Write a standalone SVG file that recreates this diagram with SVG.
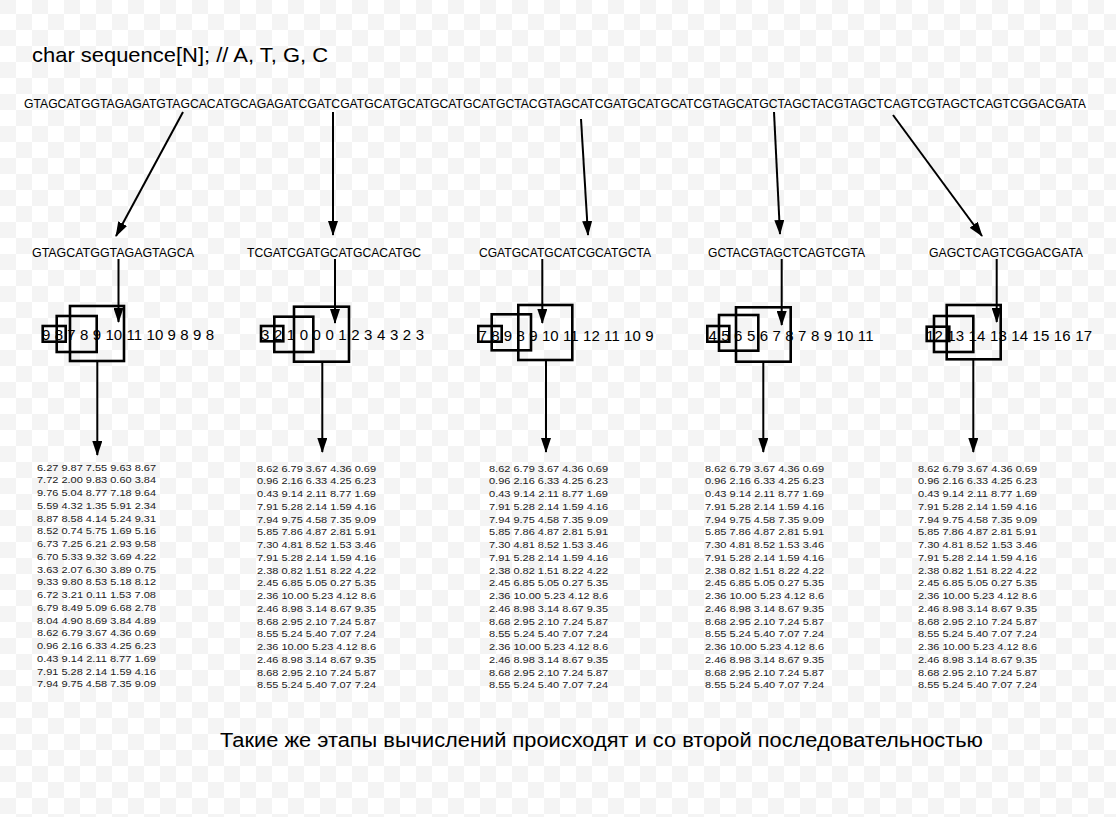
<svg xmlns="http://www.w3.org/2000/svg" width="1116" height="817" viewBox="0 0 1116 817">
<defs>
<pattern id="chk" x="0" y="-2" width="32" height="32" patternUnits="userSpaceOnUse">
<rect width="32" height="32" fill="#ffffff"/>
<rect x="0" y="0" width="16" height="16" fill="#f4f4f4"/>
<rect x="16" y="16" width="16" height="16" fill="#f4f4f4"/>
</pattern>
<marker id="ah" viewBox="0 0 15 10" refX="14" refY="5" markerWidth="15" markerHeight="10" markerUnits="userSpaceOnUse" orient="auto">
<path d="M0,0 L15,5 L0,10 z" fill="#000"/>
</marker>
<style>
text{font-family:"Liberation Sans",Arial,sans-serif;fill:#000}
.seq{font-size:12px}
.lbl{font-size:13px}
.num{font-size:15px}
.tbl{font-size:9.3px;fill:#222}
.box{fill:none;stroke:#000;stroke-width:2.6}
.con{fill:none;stroke:#000;stroke-width:2;marker-end:url(#ah)}
</style>
</defs>
<rect width="1116" height="817" fill="url(#chk)"/>

<g id="title"><text x="32" y="62" font-size="21" textLength="296" lengthAdjust="spacingAndGlyphs">char sequence[N]; // A, T, G, C</text></g>

<g id="sequence"><text class="seq" x="24" y="108" textLength="1062" lengthAdjust="spacingAndGlyphs">GTAGCATGGTAGAGATGTAGCACATGCAGAGATCGATCGATGCATGCATGCATGCATGCTACGTAGCATCGATGCATGCATCGTAGCATGCTAGCTACGTAGCTCAGTCGTAGCTCAGTCGGACGATA</text></g>

<g id="sub1"><text class="lbl" x="32" y="257" textLength="162" lengthAdjust="spacingAndGlyphs">GTAGCATGGTAGAGTAGCA</text></g>
<g id="sub2"><text class="lbl" x="247" y="257" textLength="174" lengthAdjust="spacingAndGlyphs">TCGATCGATGCATGCACATGC</text></g>
<g id="sub3"><text class="lbl" x="479" y="257" textLength="172" lengthAdjust="spacingAndGlyphs">CGATGCATGCATCGCATGCTA</text></g>
<g id="sub4"><text class="lbl" x="708" y="257" textLength="157" lengthAdjust="spacingAndGlyphs">GCTACGTAGCTCAGTCGTA</text></g>
<g id="sub5"><text class="lbl" x="929" y="257" textLength="154" lengthAdjust="spacingAndGlyphs">GAGCTCAGTCGGACGATA</text></g>

<g id="row1">
<text class="num" x="42" y="340" textLength="172" lengthAdjust="spacing">9 8 7 8 9 10 11 10 9 8 9 8</text>
<rect class="box" x="42.7" y="326" width="23" height="15.7"/>
<rect class="box" x="56.7" y="316" width="40" height="36"/>
<rect class="box" x="70" y="306" width="54" height="55"/>
</g>
<g id="row2">
<text class="num" x="261" y="340" textLength="163" lengthAdjust="spacing">3 2 1 0 0 0 1 2 3 4 3 2 3</text>
<rect class="box" x="261" y="326" width="22.3" height="15.3"/>
<rect class="box" x="274.3" y="316.7" width="39" height="35.3"/>
<rect class="box" x="294" y="306.7" width="55" height="55"/>
</g>
<g id="row3">
<text class="num" x="478.5" y="340.5" textLength="175" lengthAdjust="spacing">7 8 9 8 9 10 11 12 11 10 9</text>
<rect class="box" x="478.3" y="326" width="23.4" height="15.7"/>
<rect class="box" x="491.7" y="314.3" width="39.3" height="36"/>
<rect class="box" x="518.3" y="305" width="54" height="55"/>
</g>
<g id="row4">
<text class="num" x="708.5" y="340.5" textLength="165" lengthAdjust="spacing">4 5 6 5 6 7 8 7 8 9 10 11</text>
<rect class="box" x="707.3" y="326" width="22" height="15.7"/>
<rect class="box" x="719" y="315" width="39.3" height="35.7"/>
<rect class="box" x="736" y="307.3" width="54.7" height="54.4"/>
</g>
<g id="row5">
<text class="num" x="926" y="340.5" textLength="166" lengthAdjust="spacing">12 13 14 13 14 15 16 17</text>
<rect class="box" x="926.7" y="326.7" width="22.6" height="14.3"/>
<rect class="box" x="934" y="316" width="39.3" height="36"/>
<rect class="box" x="946.7" y="305" width="54" height="54.3"/>
</g>

<g id="table1" class="tbl">
<text class="tbl" x="37" y="470.5" textLength="119" lengthAdjust="spacingAndGlyphs">6.27 9.87 7.55 9.63 8.67</text>
<text class="tbl" x="37" y="483.25" textLength="119" lengthAdjust="spacingAndGlyphs">7.72 2.00 9.83 0.60 3.84</text>
<text class="tbl" x="37" y="496" textLength="119" lengthAdjust="spacingAndGlyphs">9.76 5.04 8.77 7.18 9.64</text>
<text class="tbl" x="37" y="508.75" textLength="119" lengthAdjust="spacingAndGlyphs">5.59 4.32 1.35 5.91 2.34</text>
<text class="tbl" x="37" y="521.5" textLength="119" lengthAdjust="spacingAndGlyphs">8.87 8.58 4.14 5.24 9.31</text>
<text class="tbl" x="37" y="534.25" textLength="119" lengthAdjust="spacingAndGlyphs">8.52 0.74 5.75 1.69 5.16</text>
<text class="tbl" x="37" y="547" textLength="119" lengthAdjust="spacingAndGlyphs">6.73 7.25 6.21 2.93 9.58</text>
<text class="tbl" x="37" y="559.75" textLength="119" lengthAdjust="spacingAndGlyphs">6.70 5.33 9.32 3.69 4.22</text>
<text class="tbl" x="37" y="572.5" textLength="119" lengthAdjust="spacingAndGlyphs">3.63 2.07 6.30 3.89 0.75</text>
<text class="tbl" x="37" y="585.25" textLength="119" lengthAdjust="spacingAndGlyphs">9.33 9.80 8.53 5.18 8.12</text>
<text class="tbl" x="37" y="598" textLength="119" lengthAdjust="spacingAndGlyphs">6.72 3.21 0.11 1.53 7.08</text>
<text class="tbl" x="37" y="610.75" textLength="119" lengthAdjust="spacingAndGlyphs">6.79 8.49 5.09 6.68 2.78</text>
<text class="tbl" x="37" y="623.5" textLength="119" lengthAdjust="spacingAndGlyphs">8.04 4.90 8.69 3.84 4.89</text>
<text class="tbl" x="37" y="636.25" textLength="119" lengthAdjust="spacingAndGlyphs">8.62 6.79 3.67 4.36 0.69</text>
<text class="tbl" x="37" y="649" textLength="119" lengthAdjust="spacingAndGlyphs">0.96 2.16 6.33 4.25 6.23</text>
<text class="tbl" x="37" y="661.75" textLength="119" lengthAdjust="spacingAndGlyphs">0.43 9.14 2.11 8.77 1.69</text>
<text class="tbl" x="37" y="674.5" textLength="119" lengthAdjust="spacingAndGlyphs">7.91 5.28 2.14 1.59 4.16</text>
<text class="tbl" x="37" y="687.25" textLength="119" lengthAdjust="spacingAndGlyphs">7.94 9.75 4.58 7.35 9.09</text>
</g>

<g id="table2">
<text class="tbl" x="257" y="471.5" textLength="119" lengthAdjust="spacingAndGlyphs">8.62 6.79 3.67 4.36 0.69</text>
<text class="tbl" x="257" y="484.25" textLength="119" lengthAdjust="spacingAndGlyphs">0.96 2.16 6.33 4.25 6.23</text>
<text class="tbl" x="257" y="497" textLength="119" lengthAdjust="spacingAndGlyphs">0.43 9.14 2.11 8.77 1.69</text>
<text class="tbl" x="257" y="509.75" textLength="119" lengthAdjust="spacingAndGlyphs">7.91 5.28 2.14 1.59 4.16</text>
<text class="tbl" x="257" y="522.5" textLength="119" lengthAdjust="spacingAndGlyphs">7.94 9.75 4.58 7.35 9.09</text>
<text class="tbl" x="257" y="535.25" textLength="119" lengthAdjust="spacingAndGlyphs">5.85 7.86 4.87 2.81 5.91</text>
<text class="tbl" x="257" y="548" textLength="119" lengthAdjust="spacingAndGlyphs">7.30 4.81 8.52 1.53 3.46</text>
<text class="tbl" x="257" y="560.75" textLength="119" lengthAdjust="spacingAndGlyphs">7.91 5.28 2.14 1.59 4.16</text>
<text class="tbl" x="257" y="573.5" textLength="119" lengthAdjust="spacingAndGlyphs">2.38 0.82 1.51 8.22 4.22</text>
<text class="tbl" x="257" y="586.25" textLength="119" lengthAdjust="spacingAndGlyphs">2.45 6.85 5.05 0.27 5.35</text>
<text class="tbl" x="257" y="599" textLength="119" lengthAdjust="spacingAndGlyphs">2.36 10.00 5.23 4.12 8.6</text>
<text class="tbl" x="257" y="611.75" textLength="119" lengthAdjust="spacingAndGlyphs">2.46 8.98 3.14 8.67 9.35</text>
<text class="tbl" x="257" y="624.5" textLength="119" lengthAdjust="spacingAndGlyphs">8.68 2.95 2.10 7.24 5.87</text>
<text class="tbl" x="257" y="637.25" textLength="119" lengthAdjust="spacingAndGlyphs">8.55 5.24 5.40 7.07 7.24</text>
<text class="tbl" x="257" y="650" textLength="119" lengthAdjust="spacingAndGlyphs">2.36 10.00 5.23 4.12 8.6</text>
<text class="tbl" x="257" y="662.75" textLength="119" lengthAdjust="spacingAndGlyphs">2.46 8.98 3.14 8.67 9.35</text>
<text class="tbl" x="257" y="675.5" textLength="119" lengthAdjust="spacingAndGlyphs">8.68 2.95 2.10 7.24 5.87</text>
<text class="tbl" x="257" y="688.25" textLength="119" lengthAdjust="spacingAndGlyphs">8.55 5.24 5.40 7.07 7.24</text>
</g>

<g id="table3">
<text class="tbl" x="489" y="471.5" textLength="119" lengthAdjust="spacingAndGlyphs">8.62 6.79 3.67 4.36 0.69</text>
<text class="tbl" x="489" y="484.25" textLength="119" lengthAdjust="spacingAndGlyphs">0.96 2.16 6.33 4.25 6.23</text>
<text class="tbl" x="489" y="497" textLength="119" lengthAdjust="spacingAndGlyphs">0.43 9.14 2.11 8.77 1.69</text>
<text class="tbl" x="489" y="509.75" textLength="119" lengthAdjust="spacingAndGlyphs">7.91 5.28 2.14 1.59 4.16</text>
<text class="tbl" x="489" y="522.5" textLength="119" lengthAdjust="spacingAndGlyphs">7.94 9.75 4.58 7.35 9.09</text>
<text class="tbl" x="489" y="535.25" textLength="119" lengthAdjust="spacingAndGlyphs">5.85 7.86 4.87 2.81 5.91</text>
<text class="tbl" x="489" y="548" textLength="119" lengthAdjust="spacingAndGlyphs">7.30 4.81 8.52 1.53 3.46</text>
<text class="tbl" x="489" y="560.75" textLength="119" lengthAdjust="spacingAndGlyphs">7.91 5.28 2.14 1.59 4.16</text>
<text class="tbl" x="489" y="573.5" textLength="119" lengthAdjust="spacingAndGlyphs">2.38 0.82 1.51 8.22 4.22</text>
<text class="tbl" x="489" y="586.25" textLength="119" lengthAdjust="spacingAndGlyphs">2.45 6.85 5.05 0.27 5.35</text>
<text class="tbl" x="489" y="599" textLength="119" lengthAdjust="spacingAndGlyphs">2.36 10.00 5.23 4.12 8.6</text>
<text class="tbl" x="489" y="611.75" textLength="119" lengthAdjust="spacingAndGlyphs">2.46 8.98 3.14 8.67 9.35</text>
<text class="tbl" x="489" y="624.5" textLength="119" lengthAdjust="spacingAndGlyphs">8.68 2.95 2.10 7.24 5.87</text>
<text class="tbl" x="489" y="637.25" textLength="119" lengthAdjust="spacingAndGlyphs">8.55 5.24 5.40 7.07 7.24</text>
<text class="tbl" x="489" y="650" textLength="119" lengthAdjust="spacingAndGlyphs">2.36 10.00 5.23 4.12 8.6</text>
<text class="tbl" x="489" y="662.75" textLength="119" lengthAdjust="spacingAndGlyphs">2.46 8.98 3.14 8.67 9.35</text>
<text class="tbl" x="489" y="675.5" textLength="119" lengthAdjust="spacingAndGlyphs">8.68 2.95 2.10 7.24 5.87</text>
<text class="tbl" x="489" y="688.25" textLength="119" lengthAdjust="spacingAndGlyphs">8.55 5.24 5.40 7.07 7.24</text>
</g>

<g id="table4">
<text class="tbl" x="705" y="471.5" textLength="119" lengthAdjust="spacingAndGlyphs">8.62 6.79 3.67 4.36 0.69</text>
<text class="tbl" x="705" y="484.25" textLength="119" lengthAdjust="spacingAndGlyphs">0.96 2.16 6.33 4.25 6.23</text>
<text class="tbl" x="705" y="497" textLength="119" lengthAdjust="spacingAndGlyphs">0.43 9.14 2.11 8.77 1.69</text>
<text class="tbl" x="705" y="509.75" textLength="119" lengthAdjust="spacingAndGlyphs">7.91 5.28 2.14 1.59 4.16</text>
<text class="tbl" x="705" y="522.5" textLength="119" lengthAdjust="spacingAndGlyphs">7.94 9.75 4.58 7.35 9.09</text>
<text class="tbl" x="705" y="535.25" textLength="119" lengthAdjust="spacingAndGlyphs">5.85 7.86 4.87 2.81 5.91</text>
<text class="tbl" x="705" y="548" textLength="119" lengthAdjust="spacingAndGlyphs">7.30 4.81 8.52 1.53 3.46</text>
<text class="tbl" x="705" y="560.75" textLength="119" lengthAdjust="spacingAndGlyphs">7.91 5.28 2.14 1.59 4.16</text>
<text class="tbl" x="705" y="573.5" textLength="119" lengthAdjust="spacingAndGlyphs">2.38 0.82 1.51 8.22 4.22</text>
<text class="tbl" x="705" y="586.25" textLength="119" lengthAdjust="spacingAndGlyphs">2.45 6.85 5.05 0.27 5.35</text>
<text class="tbl" x="705" y="599" textLength="119" lengthAdjust="spacingAndGlyphs">2.36 10.00 5.23 4.12 8.6</text>
<text class="tbl" x="705" y="611.75" textLength="119" lengthAdjust="spacingAndGlyphs">2.46 8.98 3.14 8.67 9.35</text>
<text class="tbl" x="705" y="624.5" textLength="119" lengthAdjust="spacingAndGlyphs">8.68 2.95 2.10 7.24 5.87</text>
<text class="tbl" x="705" y="637.25" textLength="119" lengthAdjust="spacingAndGlyphs">8.55 5.24 5.40 7.07 7.24</text>
<text class="tbl" x="705" y="650" textLength="119" lengthAdjust="spacingAndGlyphs">2.36 10.00 5.23 4.12 8.6</text>
<text class="tbl" x="705" y="662.75" textLength="119" lengthAdjust="spacingAndGlyphs">2.46 8.98 3.14 8.67 9.35</text>
<text class="tbl" x="705" y="675.5" textLength="119" lengthAdjust="spacingAndGlyphs">8.68 2.95 2.10 7.24 5.87</text>
<text class="tbl" x="705" y="688.25" textLength="119" lengthAdjust="spacingAndGlyphs">8.55 5.24 5.40 7.07 7.24</text>
</g>

<g id="table5">
<text class="tbl" x="918" y="471.5" textLength="119" lengthAdjust="spacingAndGlyphs">8.62 6.79 3.67 4.36 0.69</text>
<text class="tbl" x="918" y="484.25" textLength="119" lengthAdjust="spacingAndGlyphs">0.96 2.16 6.33 4.25 6.23</text>
<text class="tbl" x="918" y="497" textLength="119" lengthAdjust="spacingAndGlyphs">0.43 9.14 2.11 8.77 1.69</text>
<text class="tbl" x="918" y="509.75" textLength="119" lengthAdjust="spacingAndGlyphs">7.91 5.28 2.14 1.59 4.16</text>
<text class="tbl" x="918" y="522.5" textLength="119" lengthAdjust="spacingAndGlyphs">7.94 9.75 4.58 7.35 9.09</text>
<text class="tbl" x="918" y="535.25" textLength="119" lengthAdjust="spacingAndGlyphs">5.85 7.86 4.87 2.81 5.91</text>
<text class="tbl" x="918" y="548" textLength="119" lengthAdjust="spacingAndGlyphs">7.30 4.81 8.52 1.53 3.46</text>
<text class="tbl" x="918" y="560.75" textLength="119" lengthAdjust="spacingAndGlyphs">7.91 5.28 2.14 1.59 4.16</text>
<text class="tbl" x="918" y="573.5" textLength="119" lengthAdjust="spacingAndGlyphs">2.38 0.82 1.51 8.22 4.22</text>
<text class="tbl" x="918" y="586.25" textLength="119" lengthAdjust="spacingAndGlyphs">2.45 6.85 5.05 0.27 5.35</text>
<text class="tbl" x="918" y="599" textLength="119" lengthAdjust="spacingAndGlyphs">2.36 10.00 5.23 4.12 8.6</text>
<text class="tbl" x="918" y="611.75" textLength="119" lengthAdjust="spacingAndGlyphs">2.46 8.98 3.14 8.67 9.35</text>
<text class="tbl" x="918" y="624.5" textLength="119" lengthAdjust="spacingAndGlyphs">8.68 2.95 2.10 7.24 5.87</text>
<text class="tbl" x="918" y="637.25" textLength="119" lengthAdjust="spacingAndGlyphs">8.55 5.24 5.40 7.07 7.24</text>
<text class="tbl" x="918" y="650" textLength="119" lengthAdjust="spacingAndGlyphs">2.36 10.00 5.23 4.12 8.6</text>
<text class="tbl" x="918" y="662.75" textLength="119" lengthAdjust="spacingAndGlyphs">2.46 8.98 3.14 8.67 9.35</text>
<text class="tbl" x="918" y="675.5" textLength="119" lengthAdjust="spacingAndGlyphs">8.68 2.95 2.10 7.24 5.87</text>
<text class="tbl" x="918" y="688.25" textLength="119" lengthAdjust="spacingAndGlyphs">8.55 5.24 5.40 7.07 7.24</text>
</g>

<g id="caption"><text x="220" y="747" font-size="20" textLength="763" lengthAdjust="spacingAndGlyphs">Такие же этапы вычислений происходят и со второй последовательностью</text></g>

<g id="connectors">
<line class="con" x1="183" y1="112" x2="116" y2="236"/>
<line class="con" x1="333" y1="112" x2="333" y2="235"/>
<line class="con" x1="581" y1="119" x2="588" y2="235"/>
<line class="con" x1="774" y1="112" x2="780" y2="234"/>
<line class="con" x1="893" y1="115" x2="982" y2="236"/>
<line class="con" x1="118.5" y1="259" x2="118.5" y2="322"/>
<line class="con" x1="335" y1="259" x2="335" y2="323"/>
<line class="con" x1="542.3" y1="259" x2="542.3" y2="323"/>
<line class="con" x1="781.7" y1="259" x2="781.7" y2="325"/>
<line class="con" x1="996.7" y1="259" x2="996.7" y2="322"/>
<line class="con" x1="97.3" y1="361" x2="97.3" y2="455"/>
<line class="con" x1="322.3" y1="362" x2="322.3" y2="452"/>
<line class="con" x1="546" y1="360" x2="546" y2="452"/>
<line class="con" x1="763.3" y1="362" x2="763.3" y2="452"/>
<line class="con" x1="973.3" y1="359" x2="973.3" y2="452"/>
</g>
</svg>
